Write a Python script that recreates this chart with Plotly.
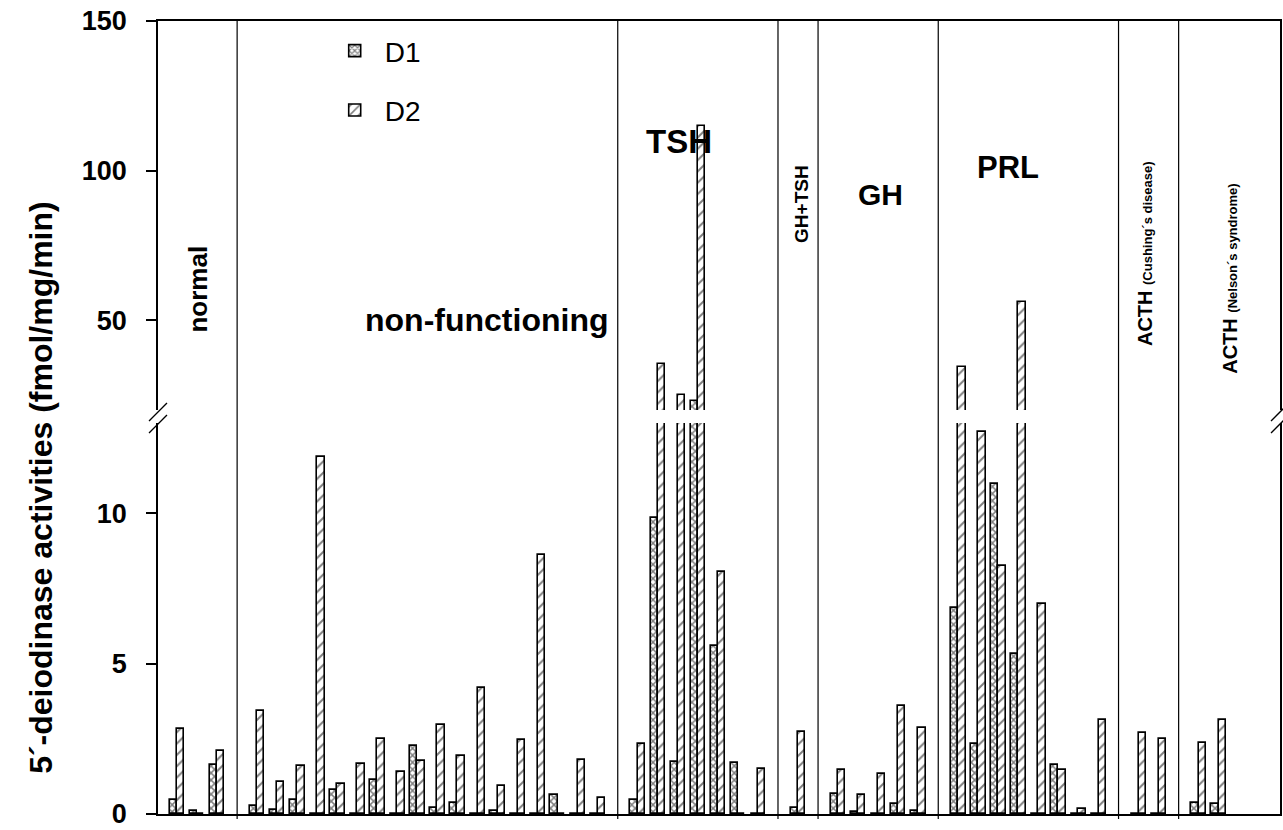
import plotly.graph_objects as go

# ---------------- data ----------------
groups = ["normal", "non-functioning", "TSH", "GH+TSH", "GH", "PRL",
          "ACTH (Cushing´s disease)", "ACTH (Nelson´s syndrome)"]
group_sizes = [3, 18, 7, 1, 5, 8, 2, 2]

d1 = [0.47, 0.11, 1.63,
      0.28, 0.13, 0.46, 0, 0.79, 0, 1.13, 0, 2.26, 0.21, 0.38, 0, 0.11, 0, 0, 0.63, 0, 0,
      0.46, 9.84, 1.73, 23.1, 5.6, 1.69, 0,
      0.19,
      0.68, 0.08, 0, 0.33, 0.09,
      6.84, 2.33, 10.96, 5.32, 0, 1.62, 0, 0,
      0, 0,
      0.37, 0.35]
d2 = [2.83, 0, 2.08,
      3.41, 1.07, 1.60, 11.86, 1.0, 1.66, 2.5, 1.4, 1.75, 2.97, 1.92, 4.19, 0.93, 2.45, 8.6, 0, 1.8, 0.54,
      2.32, 35.3, 25.1, 115, 8.05, 0, 1.51,
      2.73,
      1.46, 0.63, 1.32, 3.58, 2.85,
      34.4, 12.7, 8.24, 56, 6.99, 1.47, 0.18, 3.12,
      2.69, 2.51,
      2.36, 3.13]

low_ticks = [0, 5, 10]
high_ticks = [50, 100, 150]
y_title = "5´-deiodinase activities (fmol/mg/min)"

# ---------------- layout helpers ----------------
W, H = 1283, 830
ML, MR, MT, MB = 158, 1, 21, 12
PW, PH = W - ML - MR, H - MT - MB


def px(x):
    return (x - ML) / PW


def py(y):
    return (H - MB - y) / PH


# sample positions with one empty slot between groups
pos, seps = [], []
k = 0
for gi, n in enumerate(group_sizes):
    for _ in range(n):
        pos.append(k)
        k += 1
    if gi < len(group_sizes) - 1:
        seps.append(k)
        k += 1

BW = 0.364
FONT = "Liberation Sans, Arial, sans-serif"

fig = go.Figure()
for ax, showleg in (("", True), ("2", False)):
    fig.add_trace(go.Bar(
        x=pos, y=d1, name="D1", offset=-BW, width=BW, showlegend=showleg,
        legendgroup="d1", xaxis="x" + ax, yaxis="y" + ax,
        marker=dict(color="white", line=dict(color="black", width=1.6),
                    pattern=dict(shape="x", size=5, solidity=0.5, fgcolor="black"))))
    fig.add_trace(go.Bar(
        x=pos, y=d2, name="D2", offset=0, width=BW, showlegend=showleg,
        legendgroup="d2", xaxis="x" + ax, yaxis="y" + ax,
        marker=dict(color="white", line=dict(color="black", width=1.6),
                    pattern=dict(shape="/", size=8, solidity=0.25, fgcolor="black"))))

xr = [-0.95, 55.06]
axcommon = dict(showgrid=False, zeroline=False, showline=True, linecolor="black", linewidth=1.5)
yaxcommon = dict(axcommon, ticks="outside", ticklen=10, tickwidth=1.5, tickcolor="black", mirror=True,
                 tickfont=dict(family=FONT, size=27, color="black", weight="bold"),
                 ticklabelstandoff=14, ticklabeloverflow="allow")

shapes = []
for s in seps:
    shapes.append(dict(type="line", xref="x", yref="paper", x0=s, x1=s, y0=py(823), y1=1,
                       line=dict(color="black", width=1.2)))
# axis break marks
for xc in (158, 1282):
    for yc in (414, 426):
        shapes.append(dict(type="line", xref="paper", yref="paper",
                           x0=px(xc - 9), y0=py(yc + 9), x1=px(xc + 9), y1=py(yc - 9),
                           line=dict(color="black", width=1.3)))

ann = []


def lab(text, x, y, size, angle=0):
    ann.append(dict(text=text, x=px(x), y=py(y), xref="paper", yref="paper", showarrow=False,
                    textangle=angle, xanchor="center", yanchor="middle",
                    font=dict(family=FONT, size=size, color="black", weight="bold")))


lab(groups[0], 198, 290, 26, -90)
lab(groups[1], 487, 322, 32)
lab(groups[2], 680, 142, 33)
lab(groups[3], 802, 205, 19, -90)
lab(groups[4], 882, 195, 30)
lab(groups[5], 1010, 168, 31)
lab("ACTH <span style='font-size:13px'>" + groups[6][5:] + "</span>", 1147, 255, 20, -90)
lab("ACTH <span style='font-size:13px'>" + groups[7][5:] + "</span>", 1232, 280, 20, -90)
lab(y_title, 40, 490, 32, -90)

fig.update_layout(
    width=W, height=H, autosize=False,
    margin=dict(l=ML, r=MR, t=MT, b=MB),
    plot_bgcolor="white", paper_bgcolor="white",
    barmode="overlay", bargap=0,
    font=dict(family=FONT, color="black"),
    xaxis=dict(axcommon, domain=[0, 1], range=xr, anchor="y", showticklabels=False, ticks=""),
    xaxis2=dict(axcommon, domain=[0, 1], range=xr, anchor="y2", matches="x", side="top",
                showticklabels=False, ticks=""),
    yaxis=dict(yaxcommon, domain=[0, (818 - 425) / PH], range=[0, 13], tickvals=low_ticks),
    yaxis2=dict(yaxcommon, domain=[(818 - 412) / PH, 1], range=[20, 150], tickvals=high_ticks),
    shapes=shapes, annotations=ann,
    legend=dict(x=px(325), y=py(26), xanchor="left", yanchor="top", bgcolor="rgba(0,0,0,0)",
                font=dict(family=FONT, size=28, color="black"), tracegroupgap=20,
                itemwidth=50),
)

fig.write_html("out.html", config={"displayModeBar": False},
               post_script="document.body.style.margin='0';")
